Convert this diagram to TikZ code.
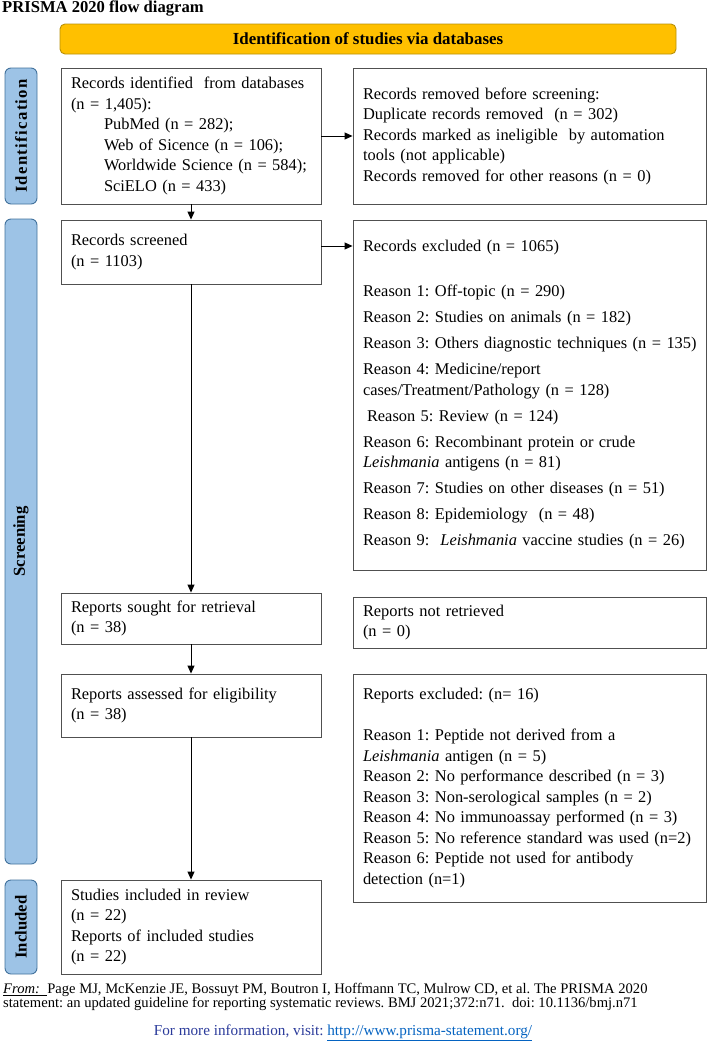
\documentclass[tikz,border=0pt]{standalone}
\usepackage{fontspec}
\setmainfont{Liberation Serif}
\usetikzlibrary{arrows.meta,calc}
\definecolor{boxline}{HTML}{505050}
\definecolor{gold}{HTML}{FFC000}
\definecolor{goldline}{HTML}{B8900A}
\definecolor{sidefill}{HTML}{9DC3E6}
\definecolor{sideline}{HTML}{41719C}
\definecolor{linkblue}{HTML}{0563C1}
\definecolor{infoblue}{HTML}{2A3A9A}
\begin{document}
\frenchspacing
\begin{tikzpicture}[x=1pt,y=-1pt,
  box/.style={draw=boxline, line width=0.9pt, rectangle, inner xsep=10pt, inner ysep=0pt, align=left,
    font=\fontsize{16.4}{20.5}\selectfont},
  leftbox/.style={box, text width=240pt, minimum width=260pt},
  rightbox/.style={box, text width=333pt, minimum width=353pt},
  sidelab/.style={draw=sideline, fill=sidefill, line width=0.9pt, rounded corners=6pt, rotate=90,
    inner sep=0pt, minimum height=32pt, font=\bfseries\fontsize{16.7}{20}\selectfont},
  arr/.style={-{Triangle[length=8pt,width=7pt]}, line width=0.9pt, black}]
\useasboundingbox (0,0) rectangle (708,1042);

% title and banner
\node[anchor=west, inner sep=0pt, font=\bfseries\fontsize{16.6}{20}\selectfont] (title) at (2,8) {PRISMA 2020 flow diagram};
\node[draw=goldline, fill=gold, rounded corners=5pt, line width=0.9pt, minimum width=616pt, minimum height=30pt,
  font=\bfseries\fontsize{16.9}{20}\selectfont] (banner) at (368,39) {Identification of studies via databases};

% side labels
\node[sidelab, minimum width=136pt] (sidA) at (21,136) {\addfontfeatures{LetterSpace=8}Identification};
\node[sidelab, minimum width=645pt] (sidB) at (21,541.5) {Screening};
\node[sidelab, minimum width=94pt] (sidC) at (21,927) {Included};

% identification row
\node[leftbox, minimum height=136pt] (id1) at (191,136) {Records identified\ \ from databases\\
(n = 1,405):\\
\hspace*{33pt}PubMed (n = 282);\\
\hspace*{33pt}Web of Sicence (n = 106);\\
\hspace*{33pt}\mbox{Worldwide Science (n = 584);}\\
\hspace*{33pt}SciELO (n = 433)};
\node[rightbox, minimum height=136pt] (id2) at (529.5,136) {Records removed before screening:\\
Duplicate records removed\ \ (n = 302)\\
Records marked as ineligible\ \ by automation\\
tools (not applicable)\\
Records removed for other reasons (n = 0)};

% screening
\node[leftbox, minimum height=64pt] (scr) at (191,252) {Records screened\\(n = 1103)};
\node[rightbox, minimum height=350pt] (exc) at (529.5,395) {Records excluded (n = 1065)\\[24.5pt]
Reason 1: Off-topic (n = 290)\\[5.5pt]
Reason 2: Studies on animals (n = 182)\\[5.5pt]
\mbox{Reason 3: Others diagnostic techniques (n = 135)}\\[5.5pt]
Reason 4: Medicine/report\\
cases/Treatment/Pathology (n = 128)\\[5.5pt]
\hspace*{4pt}Reason 5: Review (n = 124)\\[5.5pt]
Reason 6: Recombinant protein or crude\\
\textit{Leishmania} antigens (n = 81)\\[5.5pt]
\mbox{Reason 7: Studies on other diseases (n = 51)}\\[5.5pt]
Reason 8: Epidemiology\ \ (n = 48)\\[5.5pt]
\mbox{Reason 9:\ \ \textit{Leishmania} vaccine studies (n = 26)}};

\node[leftbox, minimum height=51pt] (sought) at (191,618.5) {Reports sought\ for retrieval\\(n = 38)};
\node[rightbox, minimum height=51pt] (notret) at (529.5,622.5) {Reports not retrieved\\(n = 0)};

\node[leftbox, minimum height=63pt] (assess) at (191,705.5) {Reports assessed for eligibility\\(n = 38)};
\node[rightbox, minimum height=228pt] (rexc) at (529.5,788) {Reports excluded:\ (n= 16)\\[21pt]
Reason 1: Peptide not derived from a\\
\textit{Leishmania} antigen (n = 5)\\
\mbox{Reason 2: No performance described (n = 3)}\\
Reason 3: Non-serological\ samples (n = 2)\\
\mbox{Reason 4: No immunoassay performed (n = 3)}\\
\mbox{Reason 5: No reference standard was used (n=2)}\\
Reason 6: Peptide not used for antibody\\
detection (n=1)};

% included
\node[leftbox, minimum height=94pt] (incl) at (191,927) {Studies included\ in review\\
(n = 22)\\
Reports of included\ studies\\
(n = 22)};

% connectors
\draw[arr] (id1.east) -- (id2.west);
\draw[arr] (id1.south) -- (scr.north);
\draw[arr] ([yshift=6pt]scr.east) -- ([yshift=6pt]scr.east -| exc.west);
\draw[arr] (scr.south) -- (sought.north);
\draw[arr] (sought.south) -- (assess.north);
\draw[arr] (assess.south) -- (incl.north);

% footer
\node[anchor=north west, inner sep=0pt, align=left, font=\fontsize{14.6}{12.8}\selectfont] (cite) at (3,983)
{\underline{\textit{From:}\ \ }Page MJ, McKenzie JE, Bossuyt PM, Boutron I, Hoffmann TC, Mulrow CD, et al. The PRISMA 2020\\
statement: an updated guideline for reporting systematic reviews. BMJ 2021;372:n71.\ \ doi: 10.1136/bmj.n71};
\node[inner sep=0pt, font=\fontsize{15.2}{18}\selectfont] (info) at (343,1033)
{\textcolor{infoblue}{For more information, visit:} \textcolor{linkblue}{\underline{http://www.prisma-statement.org/}}};
\end{tikzpicture}
\end{document}
